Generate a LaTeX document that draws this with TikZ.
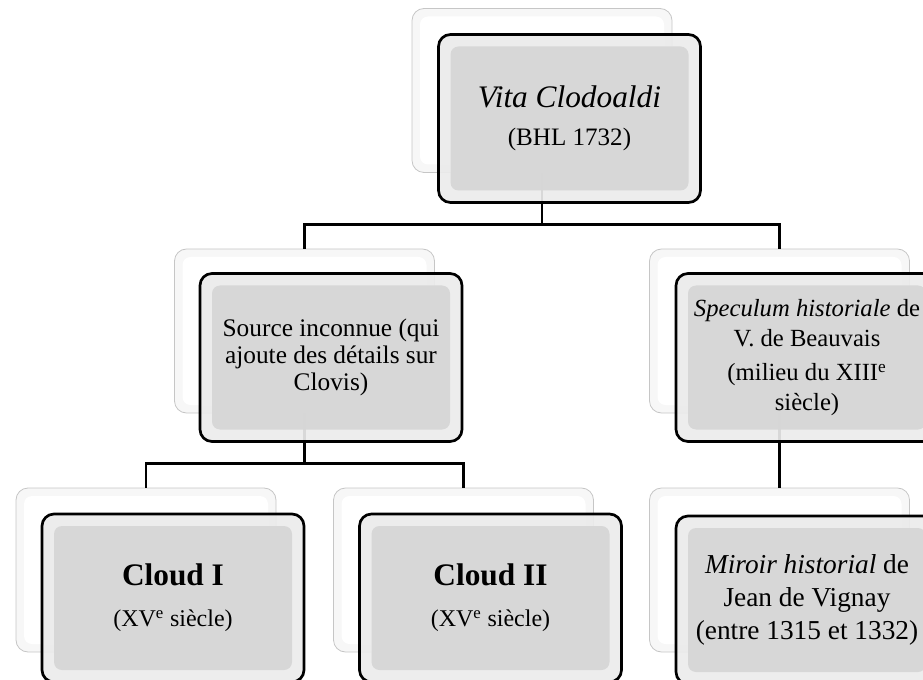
\documentclass[tikz,border=0pt]{standalone}
\usepackage{fontspec}
\setmainfont{Liberation Serif}
\usepackage{tikz}

\begin{document}
\begin{tikzpicture}[x=0.75pt,y=-0.75pt]
    \tikzset{
        back/.style={draw=gray!45, line width=0.6pt, fill=gray!6, rounded corners=9pt,
            minimum width=195pt, minimum height=123pt, inner sep=0pt,
            path picture={\fill[white, rounded corners=6pt]
                ([shift={(6pt,-6pt)}]path picture bounding box.north west) rectangle
                ([shift={(-6pt,6pt)}]path picture bounding box.south east);}},
        card/.style={draw=black, line width=2pt, fill=gray!16, fill opacity=0.92,
            text opacity=1, rounded corners=9pt,
            minimum width=196.5pt, minimum height=126pt, inner sep=2pt, align=center,
            font=\fontsize{19}{22.5}\selectfont,
            path picture={\fill[gray!32, rounded corners=6pt]
                ([shift={(9pt,-9pt)}]path picture bounding box.north west) rectangle
                ([shift={(-9pt,9pt)}]path picture bounding box.south east);}},
        link/.style={line width=1.9pt}
    }
    \useasboundingbox (0,0) rectangle (923,680);
    \clip (0,0) rectangle (923,680);

    % back layer
    \draw node[back] (vitaB) at (542,90.5) {};
    \draw node[back] (sourceB) at (304.5,331) {};
    \draw node[back] (specB) at (779.5,331) {};
    \draw node[back] (cloudIB) at (146,570) {};
    \draw node[back] (cloudIIB) at (463.5,570) {};
    \draw node[back] (miroirB) at (779.5,570) {};

    \foreach \p/\c in {%
        vitaB/sourceB,vitaB/specB,sourceB/cloudIB,sourceB/cloudIIB,specB/miroirB%
    }
    {
        \draw[link] (\p.south) |- ([yshift=18pt]\c.north) -- (\c.north);
    }

    % front layer
    \draw node[card] (vita) at (569.5,118.5)
        {{\fontsize{23.5}{26}\selectfont\textit{Vita Clodoaldi}}\\[6pt]{\fontsize{18.8}{22}\selectfont(BHL 1732)}};
    \draw node[card, font=\fontsize{19}{20.5}\selectfont] (source) at (331,357.5)
        {Source inconnue (qui\\ajoute des détails sur\\Clovis)};
    \draw node[card, font=\fontsize{18.5}{22.5}\selectfont] (spec) at (807,357.5)
        {\textit{Speculum historiale} de\\V. de Beauvais\\[3pt](milieu du XIII\textsuperscript{e}\\siècle)};
    \draw node[card] (cloudI) at (173,598)
        {{\fontsize{23.5}{26}\selectfont\textbf{Cloud I}}\\[8pt]{\fontsize{18}{21}\selectfont(XV\textsuperscript{e} siècle)}};
    \draw node[card] (cloudII) at (490.5,598)
        {{\fontsize{23.5}{26}\selectfont\textbf{Cloud II}}\\[8pt]{\fontsize{18}{21}\selectfont(XV\textsuperscript{e} siècle)}};
    \draw node[card, font=\fontsize{20.5}{24.5}\selectfont] (miroir) at (807,600)
        {\textit{Miroir historial} de\\Jean de Vignay\\(entre 1315 et 1332)};
\end{tikzpicture}
\end{document}
